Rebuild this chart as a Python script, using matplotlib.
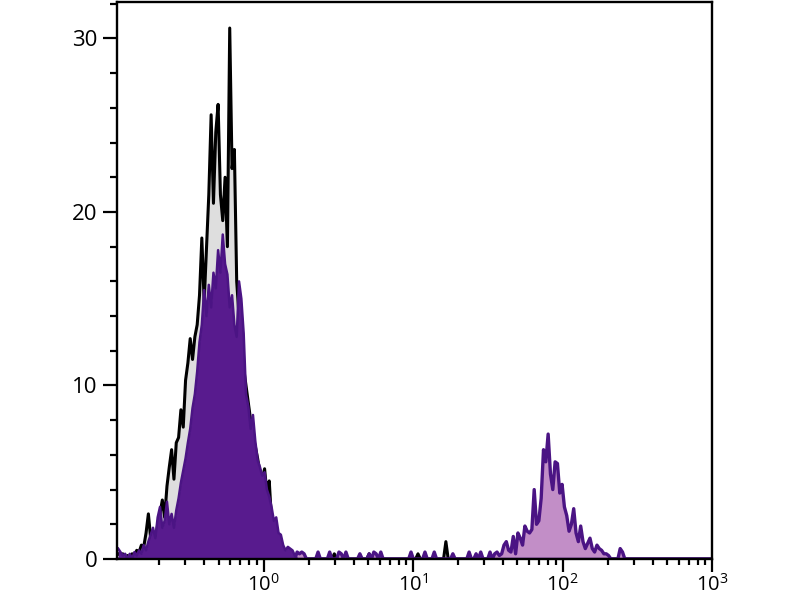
import numpy as np
import matplotlib.pyplot as plt
from matplotlib.ticker import MultipleLocator, LogLocator, NullFormatter

plt.rcParams['font.family'] = ['Open Sans', 'DejaVu Sans']
plt.rcParams['mathtext.fontset'] = 'custom'
plt.rcParams['mathtext.rm'] = 'Open Sans'

# 256 log channels of the cytometer, from 10^-0.98 to 10^3
n_channels = 256
log_min, log_max = -0.98, 3.0

# isotype control (black line, grey fill), counts from channel 0
iso_counts = [0.3, 0.2, 0.3, 0.0, 0.2, 0.0, 0.3, 0.2, 0.5, 0.4,
              0.8, 0.7, 1.5, 2.6, 1.2, 1.6, 1.0, 2.0, 2.6, 3.4,
              2.4, 4.2, 5.3, 6.3, 4.6, 6.7, 7.0, 8.6, 7.6, 10.3,
              11.3, 12.7, 11.5, 12.8, 13.5, 15.2, 18.5, 14.8, 17.9, 21.0,
              25.6, 20.5, 24.6, 26.2, 21.0, 19.5, 22.0, 18.0, 30.6, 22.5,
              23.6, 16.0, 14.0, 12.5, 11.0, 10.0, 9.0, 8.0, 7.0, 6.5,
              5.8, 5.0, 4.6, 5.2, 3.8, 4.5, 2.2, 1.0, 0.5, 0.2]
iso_noise_ch = [93, 108, 129, 141]
iso_noise = [0.3, 0.3, 0.3, 1.0]

# negative population (dark purple fill), counts from channel 0
neg_counts = [0.6, 0.4, 0.2, 0.3, 0.0, 0.3, 0.0, 0.4, 0.2, 0.5,
              0.3, 0.8, 0.5, 1.0, 1.4, 1.8, 1.2, 2.4, 3.0, 1.8,
              2.2, 3.3, 2.0, 2.6, 1.8, 2.8, 3.5, 4.4, 5.1, 5.8,
              6.7, 7.5, 8.7, 9.5, 10.8, 12.5, 13.5, 15.5, 14.0, 15.8,
              14.5, 16.5, 15.6, 17.8, 16.5, 18.7, 17.0, 16.4, 14.5, 15.2,
              13.5, 12.8, 16.0, 15.0, 13.0, 9.5, 8.8, 7.5, 8.3, 6.8,
              5.7, 5.3, 4.8, 5.0, 4.0, 3.6, 3.0, 2.2, 2.4, 1.5,
              1.4, 0.8, 0.5, 0.7, 0.6, 0.5, 0.2]

# positive population (light purple fill, dark outline)
pos_noise_ch = [77, 78, 79, 80, 86, 91, 95, 96, 98, 104, 108, 110, 111,
                113, 126, 132, 136, 144, 151, 154, 156, 160]
pos_noise = [0.4, 0.3, 0.4, 0.3, 0.4, 0.4, 0.4, 0.3, 0.4, 0.3, 0.3, 0.4, 0.3,
             0.4, 0.4, 0.4, 0.4, 0.3, 0.4, 0.3, 0.4, 0.4]
pos_first = 162
pos_counts = [0.3, 0.4, 0.2, 0.3, 0.8, 1.0, 0.5, 0.4, 1.3, 0.3,
              1.5, 1.2, 0.8, 1.9, 1.6, 1.5, 1.7, 4.0, 2.0, 2.2,
              3.5, 6.3, 5.6, 7.2, 4.9, 4.0, 5.6, 5.5, 3.8, 4.3,
              3.0, 2.5, 1.6, 2.0, 2.9, 1.5, 1.0, 1.9, 1.0, 0.6,
              0.9, 1.2, 0.6, 0.4, 0.8, 0.6, 0.5, 0.3, 0.3, 0.2,
              0.0, 0.0, 0.0, 0.0, 0.6, 0.4, 0.0]

x_ticks = [1, 10, 100, 1000]
x_labels = ['$10^{0}$', '$10^{1}$', '$10^{2}$', '$10^{3}$']
y_ticks = [0, 10, 20, 30]

# monta os vetores completos
chan = np.arange(n_channels)
x = 10 ** (log_min + (chan + 0.5) * (log_max - log_min) / n_channels)

iso = np.zeros(n_channels)
iso[:len(iso_counts)] = iso_counts
iso[iso_noise_ch] = iso_noise

neg = np.zeros(n_channels)
neg[:len(neg_counts)] = neg_counts

pos = np.zeros(n_channels)
pos[pos_noise_ch] = pos_noise
pos[pos_first:pos_first + len(pos_counts)] = pos_counts

fig = plt.figure(figsize=(8, 6), dpi=100)
ax = fig.add_axes([117 / 800, 41 / 600, 595 / 800, 557 / 600])

dark = '#4b1484'
ax.fill_between(x, iso, color='#dedede', lw=0, zorder=1)
ax.plot(x, iso, color='black', lw=2.2, zorder=2)
ax.fill_between(x, pos, color='#c28ec7', lw=0, zorder=3)
ax.plot(x, pos, color=dark, lw=2.4, zorder=4)
ax.fill_between(x, neg, color='#581b8e', lw=0, zorder=5)
ax.plot(x, neg, color=dark, lw=1.8, zorder=6)

ax.set_xscale('log')
ax.set_xlim(10 ** log_min, 10 ** log_max)
ax.set_ylim(0, 32.1)

ax.set_xticks(x_ticks)
ax.set_xticklabels(x_labels)
ax.xaxis.set_minor_locator(LogLocator(base=10, subs=np.arange(2, 10)))
ax.xaxis.set_minor_formatter(NullFormatter())
ax.set_yticks(y_ticks)
ax.yaxis.set_minor_locator(MultipleLocator(2))

ax.tick_params(which='major', direction='out', length=10, width=1.6,
               labelsize=16, pad=4)
ax.tick_params(which='minor', direction='out', length=5, width=1.6)
ax.tick_params(axis='x', which='major', length=9, labelsize=14.5, pad=1.5)
ax.tick_params(axis='x', which='minor', length=4.5)

for s in ax.spines.values():
    s.set_linewidth(1.7)
    s.set_zorder(10)

fig.savefig('out.png', dpi=100)
